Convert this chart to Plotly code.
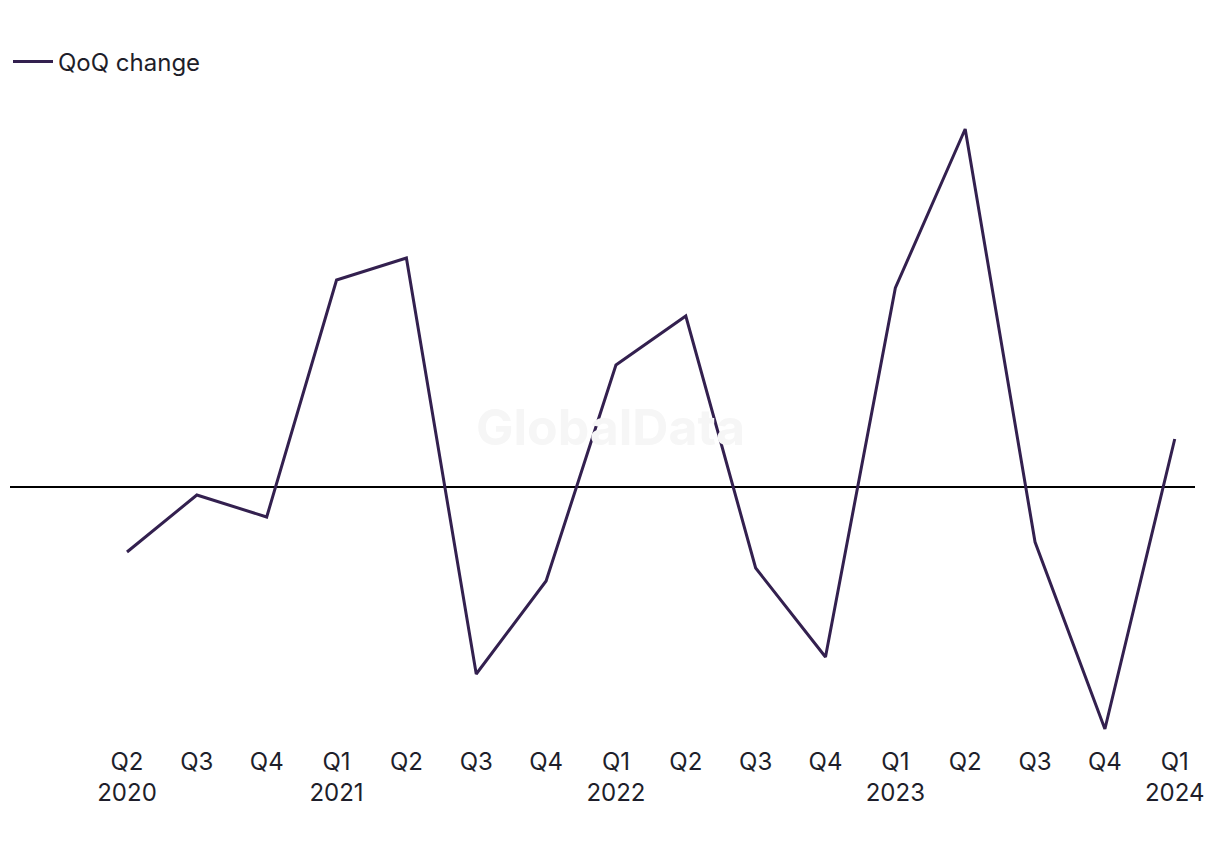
import plotly.graph_objects as go

quarters = ["Q2<br>2020", "Q3", "Q4", "Q1<br>2021", "Q2", "Q3", "Q4", "Q1<br>2022",
            "Q2", "Q3", "Q4", "Q1<br>2023", "Q2", "Q3", "Q4", "Q1<br>2024"]
qoq_change = [-6.5, -0.8, -3.0, 20.7, 22.9, -18.7, -9.4, 12.2,
              17.1, -8.1, -17.0, 19.9, 35.8, -5.5, -24.2, 4.8]

x_pos = list(range(len(quarters)))

fig = go.Figure()
fig.add_trace(go.Scatter(
    x=x_pos, y=qoq_change, mode="lines", name="QoQ change",
    line=dict(color="#33204f", width=3),
))

fig.update_layout(
    width=1220, height=850,
    paper_bgcolor="white", plot_bgcolor="white",
    margin=dict(l=2, r=33, t=92, b=113, autoexpand=False),
    font=dict(family="Inter, Roboto, sans-serif", size=24, color="#1e1e2a"),
    showlegend=True,
    legend=dict(x=-2 / 1185, y=1 + 38 / 645, xanchor="left", yanchor="middle",
                font=dict(size=24), bgcolor="rgba(0,0,0,0)", itemwidth=40),
    xaxis=dict(range=[-1.675, 15.29], tickmode="array", tickvals=x_pos,
               ticktext=quarters, showgrid=False, zeroline=False,
               showline=False, ticks="", tickfont=dict(size=24)),
    yaxis=dict(range=[-25.8, 38.7], showgrid=False, showticklabels=False,
               zeroline=True, zerolinecolor="#000000", zerolinewidth=1.5,
               showline=False, ticks=""),
    annotations=[dict(text="<b>GlobalData</b>", x=0.5 + 8 / 1185, y=0.505 - 8 / 645,
                      xref="paper", yref="paper", showarrow=False,
                      font=dict(size=50, color="#f6f6f6"))],
)

fig.write_html("out.html")
